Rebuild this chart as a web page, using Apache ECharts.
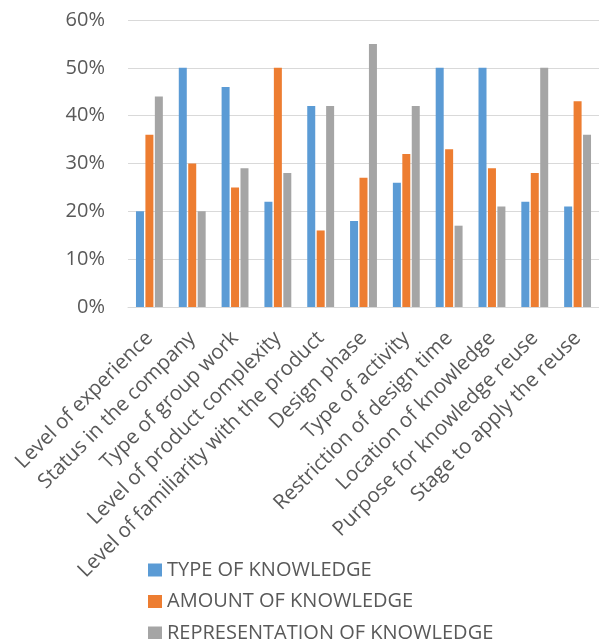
<!DOCTYPE html>
<html>
<head>
<meta charset="utf-8">
<script src="https://cdn.jsdelivr.net/npm/echarts@6/dist/echarts.min.js"></script>
<style>html,body{margin:0;padding:0;background:#fff}#c{width:599px;height:639px}</style>
</head>
<body>
<div id="c"></div>
<script>
const categories = ["Level of experience","Status in the company","Type of group work","Level of product complexity","Level of familiarity with the product","Design phase","Type of activity","Restriction of design time","Location of knowledge","Purpose for knowledge reuse","Stage to apply the reuse"];
const typeOfKnowledge = [20,50,46,22,42,18,26,50,50,22,21];
const amountOfKnowledge = [36,30,25,50,16,27,32,33,29,28,43];
const representationOfKnowledge = [44,20,29,28,42,55,42,17,21,50,36];
const yTicks = [0,10,20,30,40,50,60];
const seriesNames = ["TYPE OF KNOWLEDGE","AMOUNT OF KNOWLEDGE","REPRESENTATION OF KNOWLEDGE"];
const colors = ["#5B9BD5","#ED7D31","#A5A5A5"];
const font = "'Open Sans', sans-serif";
const chart = echarts.init(document.getElementById('c'), null, {renderer:'canvas'});
const data = [typeOfKnowledge, amountOfKnowledge, representationOfKnowledge];
chart.setOption({
  animation:false,
  textStyle:{fontFamily:font},
  grid:{left:128, top:20, width:477, bottom:332, containLabel:false},
  legend:{
    orient:'vertical', left:148, top:560, height:120, padding:0,
    itemWidth:14, itemHeight:13, itemGap:11.5,
    icon:'rect',
    textStyle:{fontFamily:font, fontSize:20, lineHeight:20, color:'#595959'},
    data:seriesNames
  },
  xAxis:{
    type:'category', data:categories,
    axisLine:{lineStyle:{color:'#D9D9D9', width:1}},
    axisTick:{show:false},
    axisLabel:{rotate:45, interval:0, fontSize:20.5, color:'#595959', fontFamily:font, margin:28}
  },
  yAxis:{
    type:'value', min:yTicks[0], max:yTicks[yTicks.length-1], interval:10,
    axisLine:{show:false}, axisTick:{show:false},
    splitLine:{lineStyle:{color:'#D9D9D9', width:1}},
    axisLabel:{formatter:'{value}%', fontSize:20, color:'#595959', fontFamily:font, margin:23}
  },
  series: seriesNames.map((n,i)=>({
    name:n, type:'bar', data:data[i], barWidth:8, barGap:'18%',
    itemStyle:{color:colors[i]}
  }))
});
</script>
</body>
</html>
